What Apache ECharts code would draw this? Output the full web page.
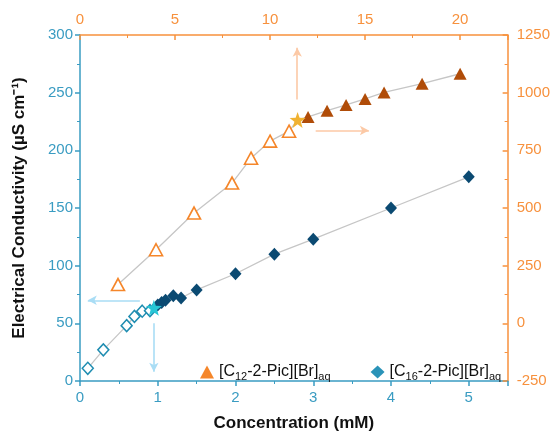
<!DOCTYPE html>
<html><head><meta charset="utf-8">
<script src="https://cdn.jsdelivr.net/npm/echarts@6/dist/echarts.min.js"></script>
<style>html,body{margin:0;padding:0;background:#fff}#c{width:553px;height:437px}</style>
</head><body><div id="c"></div>
<script>
// C12 (top x axis, mM; right y axis, µS cm-1)
var c12PreX = [2, 4, 6, 8, 9, 10, 11];
var c12PreY = [168, 319, 478, 608, 716, 790, 833];
var c12CmcX = [11.45];
var c12CmcY = [882];
var c12PostX = [12, 13, 14, 15, 16, 18, 20];
var c12PostY = [895, 922, 947, 973, 1001, 1039, 1082];
// C16 (bottom x axis, mM; left y axis, µS cm-1)
var c16PreX = [0.1, 0.3, 0.6, 0.7, 0.8, 0.9];
var c16PreY = [11, 27, 48, 56, 60.5, 61];
var c16CmcX = [0.95];
var c16CmcY = [63.5];
var c16PostX = [1.0, 1.05, 1.1, 1.2, 1.3, 1.5, 2, 2.5, 3, 4, 5];
var c16PostY = [66, 68, 70, 74, 72, 79, 93, 110, 123, 150, 177];
// annotation arrows [fromX, fromY, toX, toY]
var c16ArrowH = [0.77, 70, 0.1, 70];
var c16ArrowV = [0.95, 50, 0.95, 8];
var c12ArrowV = [11.43, 970, 11.43, 1195];
var c12ArrowH = [12.4, 836, 15.2, 836];

var BLUE = '#3a9cc2', ORANGE = '#f7913d';
function pairs(xs, ys){ return xs.map(function(x,i){return [x, ys[i]];}); }
function arrow(a){ return [[{coord:[a[0],a[1]]},{coord:[a[2],a[3]]}]]; }
var STAR = 'path://M0,-10 L2.35,-3.24 L9.51,-3.09 L3.8,1.24 L5.88,8.09 L0,4 L-5.88,8.09 L-3.8,1.24 L-9.51,-3.09 L-2.35,-3.24 Z';
var chart = echarts.init(document.getElementById('c'));
var FF = 'Liberation Sans, Arial, sans-serif';
var axisFont = {fontFamily:FF, fontSize:15};
var rich = {n:{fontSize:16, color:'#111', fontFamily:FF}, s:{fontSize:11, color:'#111', fontFamily:FF, padding:[10,0,0,0]}};
chart.setOption({
  animation:false,
  grid:{left:80, right:42, top:35, bottom:54},
  legend:{
    left:195, top:359, itemWidth:14, itemHeight:13, itemGap:40,
    data:[{name:'C12', icon:'triangle', itemStyle:{color:'#f5862a'}},
          {name:'C16', icon:'diamond', itemStyle:{color:'#2a93b8'}}],
    formatter:function(n){ return n==='C12' ? '{n|[C}{s|12}{n|-2-Pic][Br]}{s|aq}' : '{n|[C}{s|16}{n|-2-Pic][Br]}{s|aq}'; },
    textStyle:{rich:rich}
  },
  xAxis:[
    {type:'value', position:'bottom', min:0, max:5.5, interval:1,
     name:'Concentration (mM)', nameLocation:'middle', nameGap:34,
     nameTextStyle:{fontSize:17, fontWeight:'bold', color:'#111', fontFamily:FF},
     axisLine:{show:true, onZero:false, lineStyle:{color:BLUE, width:1.5}},
     axisTick:{show:true, length:5, lineStyle:{color:BLUE, width:1.5}},
     minorTick:{show:true, splitNumber:2, length:3, lineStyle:{color:BLUE}},
     axisLabel:Object.assign({color:BLUE, margin:9, showMaxLabel:false}, axisFont),
     splitLine:{show:false}},
    {type:'value', position:'top', min:0, max:22.5, interval:5,
     axisLine:{show:true, onZero:false, lineStyle:{color:ORANGE, width:1.5}},
     axisTick:{show:true, inside:true, length:5, lineStyle:{color:ORANGE, width:1.5}},
     minorTick:{show:true, splitNumber:2, length:3, lineStyle:{color:ORANGE}},
     axisLabel:Object.assign({color:ORANGE, margin:8, showMaxLabel:false}, axisFont),
     splitLine:{show:false}}
  ],
  yAxis:[
    {type:'value', position:'left', min:0, max:300, interval:50,
     name:'Electrical Conductivity (µS cm⁻¹)', nameLocation:'middle', nameGap:52,
     nameTextStyle:{fontSize:17, fontWeight:'bold', color:'#111', fontFamily:FF},
     axisLine:{show:true, onZero:false, lineStyle:{color:BLUE, width:1.5}},
     axisTick:{show:true, length:5, lineStyle:{color:BLUE, width:1.5}},
     minorTick:{show:true, splitNumber:2, length:3, lineStyle:{color:BLUE}},
     axisLabel:Object.assign({color:BLUE, margin:7}, axisFont),
     splitLine:{show:false}},
    {type:'value', position:'right', min:-250, max:1250, interval:250,
     axisLine:{show:true, onZero:false, lineStyle:{color:ORANGE, width:1.5}},
     axisTick:{show:true, inside:true, length:5, lineStyle:{color:ORANGE, width:1.5}},
     minorTick:{show:true, splitNumber:2, length:3, lineStyle:{color:ORANGE}},
     axisLabel:Object.assign({color:ORANGE, margin:9, formatter:function(v){return String(v);}}, axisFont),
     splitLine:{show:false}}
  ],
  series:[
    {type:'line', name:'c12line', xAxisIndex:1, yAxisIndex:1, showSymbol:false, silent:true, z:1,
     data:pairs(c12PreX.concat(c12CmcX, c12PostX), c12PreY.concat(c12CmcY, c12PostY)),
     lineStyle:{color:'#c6c6c6', width:1.3},
     markLine:{silent:true, symbol:['none','arrow'], symbolSize:[7,9], label:{show:false},
       lineStyle:{color:'#fcc9a6', width:1.6, type:'solid'},
       data:arrow(c12ArrowV).concat(arrow(c12ArrowH))}},
    {type:'line', name:'c16line', xAxisIndex:0, yAxisIndex:0, showSymbol:false, silent:true, z:1,
     data:pairs(c16PreX.concat(c16CmcX, c16PostX), c16PreY.concat(c16CmcY, c16PostY)),
     lineStyle:{color:'#c6c6c6', width:1.3},
     markLine:{silent:true, symbol:['none','arrow'], symbolSize:[7,9], label:{show:false},
       lineStyle:{color:'#a9ddf5', width:1.6, type:'solid'},
       data:arrow(c16ArrowH).concat(arrow(c16ArrowV))}},
    {type:'scatter', name:'c12pre', xAxisIndex:1, yAxisIndex:1, symbol:'triangle', symbolSize:[13,12], z:3,
     data:pairs(c12PreX, c12PreY), itemStyle:{color:'#fff', borderColor:'#f5862a', borderWidth:1.6, opacity:1}},
    {type:'scatter', name:'C12', xAxisIndex:1, yAxisIndex:1, symbol:'triangle', symbolSize:[13,12], z:3,
     data:pairs(c12PostX, c12PostY), itemStyle:{color:'#b04c08', opacity:1}},
    {type:'scatter', name:'c12cmc', xAxisIndex:1, yAxisIndex:1, symbol:STAR, symbolSize:16, z:4,
     data:pairs(c12CmcX, c12CmcY), itemStyle:{color:'#f0b232', opacity:1}},
    {type:'scatter', name:'c16pre', xAxisIndex:0, yAxisIndex:0, symbol:'diamond', symbolSize:[11,12], z:3,
     data:pairs(c16PreX, c16PreY), itemStyle:{color:'#fff', borderColor:'#1f8db1', borderWidth:1.5, opacity:1}},
    {type:'scatter', name:'C16', xAxisIndex:0, yAxisIndex:0, symbol:'diamond', symbolSize:[12,13], z:3,
     data:pairs(c16PostX, c16PostY), itemStyle:{color:'#0b4a72', opacity:1}},
    {type:'scatter', name:'c16cmc', xAxisIndex:0, yAxisIndex:0, symbol:STAR, symbolSize:16, z:4,
     data:pairs(c16CmcX, c16CmcY), itemStyle:{color:'#27c6d6', opacity:1}}
  ]
});
</script></body></html>
